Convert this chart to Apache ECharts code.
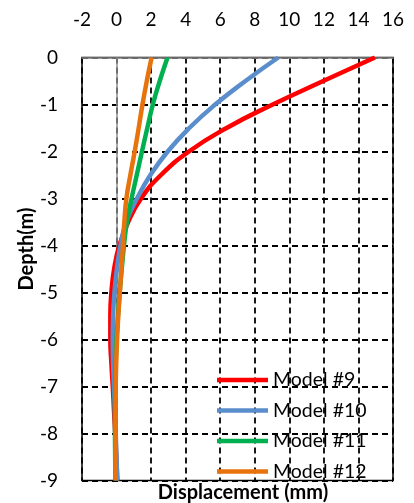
<!DOCTYPE html>
<html>
<head>
<meta charset="utf-8">
<script src="https://cdn.jsdelivr.net/npm/echarts@6/dist/echarts.min.js"></script>
<style>
  html, body { margin: 0; padding: 0; background: #fff; }
  #chart { width: 414px; height: 503px; }
</style>
</head>
<body>
<div id="chart"></div>
<script>
// Depth below surface (m), shared by every model profile
const depths = [0, -0.5, -1, -1.5, -2, -2.5, -3, -3.5, -4, -4.5, -5, -5.5, -6, -6.5, -7, -7.5, -8, -8.5, -9];

// Lateral displacement (mm) at each depth
const model9  = [14.95, 11.96, 9.04, 6.37, 4.19, 2.57, 1.42, 0.67, 0.16, -0.14, -0.3, -0.36, -0.36, -0.3, -0.22, -0.15, -0.08, -0.02, 0.05];
const model10 = [9.36, 7.46, 5.71, 4.21, 2.96, 1.96, 1.18, 0.56, 0.23, 0.02, -0.12, -0.2, -0.22, -0.2, -0.15, -0.1, -0.05, 0.0, 0.03];
const model11 = [2.95, 2.5, 2.1, 1.78, 1.47, 1.17, 0.87, 0.6, 0.43, 0.3, 0.18, 0.08, 0.0, -0.05, -0.08, -0.09, -0.09, -0.08, -0.07];
const model12 = [2.03, 1.75, 1.5, 1.28, 1.05, 0.8, 0.57, 0.45, 0.37, 0.28, 0.19, 0.1, 0.03, -0.02, -0.05, -0.06, -0.06, -0.06, -0.05];

const seriesNames = ['Model #9', 'Model #10', 'Model #11', 'Model #12'];
const seriesValues = [model9, model10, model11, model12];
const seriesColors = ['#FF0000', '#5A8DCB', '#00B050', '#E8720C'];

const FONT = 'Lato';

const chart = echarts.init(document.getElementById('chart'), null, { renderer: 'canvas' });

const series = seriesValues.map((vals, i) => {
  const s = {
    name: seriesNames[i],
    type: 'line',
    smooth: 0.5,
    symbol: 'none',
    lineStyle: { color: seriesColors[i], width: 4.5 },
    itemStyle: { color: seriesColors[i] },
    data: vals.map((v, k) => [v, depths[k]]),
    z: 3 + i
  };
  if (i === 0) {
    // vertical reference line at zero displacement
    s.markLine = {
      silent: true,
      symbol: 'none',
      label: { show: false },
      lineStyle: { color: '#8c8c8c', type: 'solid', width: 1.5 },
      data: [{ xAxis: 0 }],
      z: 1
    };
  }
  return s;
});

chart.setOption({
  animation: false,
  backgroundColor: '#fff',
  grid: {
    left: 82, right: 21, top: 57.5, bottom: 22.5,
    show: true, borderColor: '#000', borderWidth: 1.5, backgroundColor: 'transparent'
  },
  xAxis: {
    type: 'value',
    position: 'top',
    min: -2, max: 16, interval: 2,
    axisLine: { show: true, lineStyle: { color: '#8c8c8c', width: 1.5 } },
    axisTick: { show: false },
    axisLabel: { color: '#000', fontFamily: FONT, fontSize: 19, margin: 28 },
    splitLine: { show: true, lineStyle: { color: '#000', type: [6, 4], width: 1.8 } }
  },
  yAxis: {
    type: 'value',
    min: -9, max: 0, interval: 1,
    axisLine: { show: false },
    axisTick: { show: false },
    axisLabel: { color: '#000', fontFamily: FONT, fontSize: 19, margin: 24 },
    splitLine: { show: true, lineStyle: { color: '#000', type: [6, 4], width: 1.8 } }
  },
  legend: {
    orient: 'vertical',
    left: 212, top: 365,
    itemWidth: 51, itemHeight: 4.5, itemGap: 10.5,
    icon: 'rect',
    backgroundColor: 'transparent',
    textStyle: { color: '#000', fontFamily: FONT, fontSize: 19.5, padding: [0, 0, 0, 0] },
    data: seriesNames
  },
  graphic: [
    {
      type: 'text',
      x: 243, y: 493,
      style: {
        text: 'Displacement (mm)',
        x: 0, y: 0,
        align: 'center', verticalAlign: 'middle',
        font: 'bold 20px ' + FONT, fill: '#000'
      }
    },
    {
      type: 'text',
      x: 27, y: 249,
      rotation: Math.PI / 2,
      style: {
        text: 'Depth(m)',
        x: 0, y: 0,
        align: 'center', verticalAlign: 'middle',
        font: 'bold 20px ' + FONT, fill: '#000'
      }
    }
  ],
  series: series
});
</script>
</body>
</html>
